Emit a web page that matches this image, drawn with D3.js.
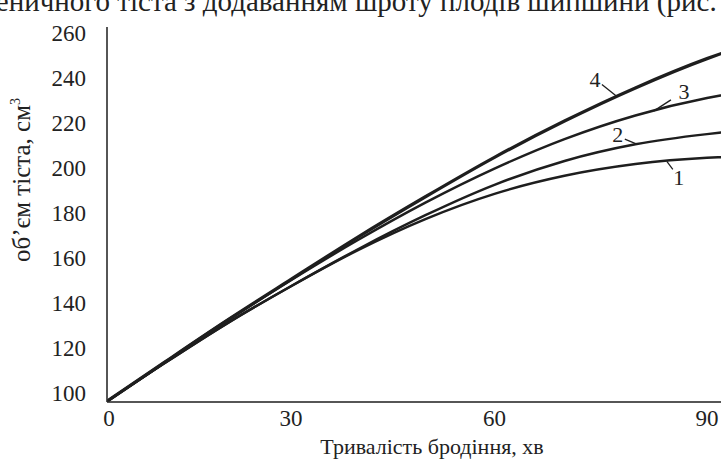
<!DOCTYPE html>
<html>
<head>
<meta charset="utf-8">
<script src="https://cdn.jsdelivr.net/npm/d3@7"></script>
<style>
  html, body { margin: 0; padding: 0; background: #fff; }
  svg { display: block; }
  text { font-family: "Liberation Serif", "DejaVu Serif", serif; fill: #222; }
</style>
</head>
<body>
<svg id="chart" width="721" height="462"></svg>
<script>
// Fermentation time, minutes
const minutes = [0, 10, 20, 30, 40, 50, 60, 70, 80, 90, 92];
// Dough volume, cm3, for samples 1–4
const volume1 = [100, 116.3, 133.8, 150.5, 166.4, 180.3, 191.5, 199.5, 204.7, 207.5, 207.8];
const volume2 = [100, 116.3, 133.8, 150.5, 166.8, 182.0, 195.5, 206.1, 213.5, 218, 218.7];
const volume3 = [100, 116.7, 135.1, 153.2, 170.9, 187.6, 202.7, 215.8, 226.3, 234, 235.2];
const volume4 = [100, 116.7, 135.1, 153.5, 172.2, 190.2, 207.7, 223.8, 238.5, 251.5, 253.8];
const seriesNames = ["1", "2", "3", "4"];
const xTicks = [0, 30, 60, 90];
const yTicks = [100, 120, 140, 160, 180, 200, 220, 240, 260];

const allSeries = [volume1, volume2, volume3, volume4];

const svg = d3.select("#chart");
// The time axis of this figure is slightly stretched toward its right end
const x = d3.scalePow().exponent(1.083).domain([0, 90]).range([109, 707]);
const y = d3.scaleLinear().domain([100, 260]).range([400, 39.5]);

const ink = "#1e1e1e";

// Running header text, clipped by the top edge
svg.append("text")
  .attr("x", -42).attr("y", 11)
  .style("font-size", "29px")
  .text("пшеничного тіста з додаванням шроту плодів шипшини (рис.");

// Axes lines
svg.append("line")
  .attr("x1", 107).attr("x2", 107).attr("y1", 27).attr("y2", 402)
  .attr("stroke", ink).attr("stroke-width", 1.5);
svg.append("line")
  .attr("x1", 107).attr("x2", 721).attr("y1", 402).attr("y2", 402)
  .attr("stroke", ink).attr("stroke-width", 1.5);

// Y tick labels
svg.append("g").selectAll("text").data(yTicks).join("text")
  .attr("x", 86)
  .attr("y", d => y(d) + 1)
  .attr("text-anchor", "end")
  .style("font-size", "23px")
  .text(d => d);

// X tick labels
svg.append("g").selectAll("text").data(xTicks).join("text")
  .attr("x", d => x(d))
  .attr("y", 426)
  .attr("text-anchor", "middle")
  .style("font-size", "23px")
  .text(d => d);

// Axis titles
svg.append("text")
  .attr("x", 432).attr("y", 454)
  .attr("text-anchor", "middle")
  .style("font-size", "22px")
  .text("Тривалість бродіння, хв");

const yTitle = svg.append("text")
  .attr("transform", "translate(30,180) rotate(-90)")
  .attr("text-anchor", "middle")
  .style("font-size", "25px");
yTitle.append("tspan").text("об’єм тіста, см");
yTitle.append("tspan").attr("dy", -10).style("font-size", "14px").text("3");

// Curves
const line = d3.line()
  .x((d, i) => x(minutes[i]))
  .y(d => y(d))
  .curve(d3.curveMonotoneX);

svg.append("g").selectAll("path").data(allSeries).join("path")
  .attr("d", d => line(d))
  .attr("fill", "none")
  .attr("stroke", ink)
  .attr("stroke-width", (d, i) => i === 3 ? 3.3 : 2.5)
  .attr("stroke-linecap", "round");

// Curve labels with leader lines: anchor time on the curve, then pixel offsets
const labelAnchor = [84.4, 80.2, 82.6, 77.4];
const leaderEnd = [[6, 8], [-12, -5], [17, -11], [-15, -12]];
const labelOffset = [[12, 16], [-19, -10], [30, -20], [-22, -18]];

function valueAt(series, t) {
  const i = d3.bisectRight(minutes, t) - 1;
  const t0 = minutes[i], t1 = minutes[i + 1];
  return series[i] + (series[i + 1] - series[i]) * (t - t0) / (t1 - t0);
}

const ann = svg.append("g");
allSeries.forEach((s, i) => {
  const px = x(labelAnchor[i]);
  const py = y(valueAt(s, labelAnchor[i]));
  ann.append("line")
    .attr("x1", px).attr("y1", py)
    .attr("x2", px + leaderEnd[i][0]).attr("y2", py + leaderEnd[i][1])
    .attr("stroke", ink).attr("stroke-width", 1.3);
  ann.append("text")
    .attr("x", px + labelOffset[i][0])
    .attr("y", py + labelOffset[i][1] + 8)
    .attr("text-anchor", "middle")
    .style("font-size", "22px")
    .text(seriesNames[i]);
});
</script>
</body>
</html>
